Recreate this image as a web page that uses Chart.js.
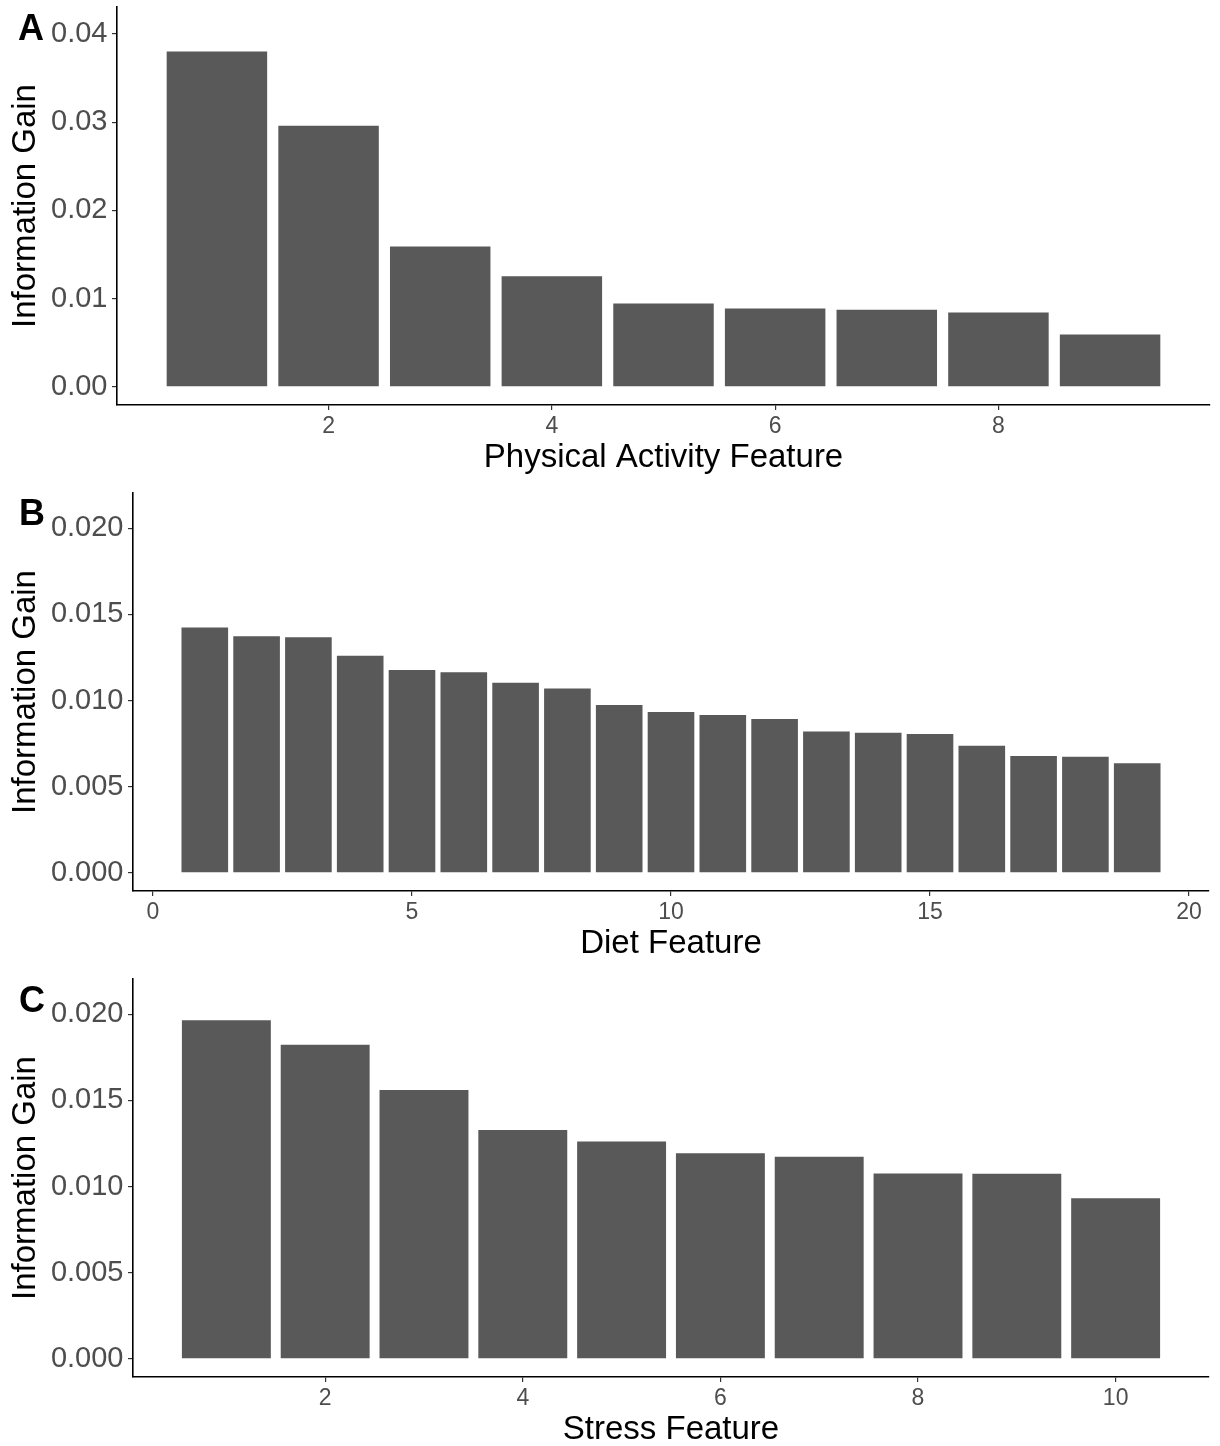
<!DOCTYPE html>
<html>
<head>
<meta charset="utf-8">
<title>Information Gain by Feature</title>
<script src="https://cdn.jsdelivr.net/npm/chart.js@4.4.1/dist/chart.umd.min.js"></script>
<style>
  html, body { margin: 0; padding: 0; background: #fff; }
  #wrap { position: relative; width: 1220px; height: 1446px; }
  #wrap canvas { position: absolute; left: 0; top: 0; width: 1220px; height: 1446px; }
</style>
</head>
<body>
<div id="wrap">
  <canvas id="chart-a" width="1220" height="1446"></canvas>
  <canvas id="chart-b" width="1220" height="1446"></canvas>
  <canvas id="chart-c" width="1220" height="1446"></canvas>
</div>
<script>
// Panel A - physical activity
const activityFeatures = [1, 2, 3, 4, 5, 6, 7, 8, 9];
const activityGain = [0.0380, 0.0296, 0.0159, 0.01254, 0.00946, 0.00889, 0.00873, 0.00844, 0.00595];
const activityXTicks = [2, 4, 6, 8];
const activityYTicks = [0, 0.01, 0.02, 0.03, 0.04];

// Panel B - diet
const dietFeatures = [1, 2, 3, 4, 5, 6, 7, 8, 9, 10, 11, 12, 13, 14, 15, 16, 17, 18, 19];
const dietGain = [0.01424, 0.01374, 0.01368, 0.0126, 0.01177, 0.01165, 0.01104, 0.01071, 0.00975, 0.00934,
                  0.00917, 0.00894, 0.00821, 0.00813, 0.00806, 0.00738, 0.00678, 0.00674, 0.00636];
const dietXTicks = [0, 5, 10, 15, 20];

// Panel C - stress
const stressFeatures = [1, 2, 3, 4, 5, 6, 7, 8, 9, 10];
const stressGain = [0.01965, 0.01824, 0.01561, 0.01329, 0.01262, 0.01194, 0.01173, 0.01076, 0.01074, 0.00933];
const stressXTicks = [2, 4, 6, 8, 10];

const gainYTicks = [0, 0.005, 0.01, 0.015, 0.02];

const FONT = '"Liberation Sans", Arial, Helvetica, sans-serif';
const PAGE_W = 1220;
const PAGE_H = 1446;
const X_AXIS_H = 69;

// draws the bold panel letter in the top-left corner
const panelLetter = {
    id: 'panelLetter',
    afterDraw(chart, args, opts) {
        const ctx = chart.ctx;
        ctx.save();
        ctx.font = 'bold 36px ' + FONT;
        ctx.fillStyle = '#000';
        ctx.textBaseline = 'alphabetic';
        ctx.fillText(opts.text, opts.x, opts.y);
        ctx.restore();
    }
};

const panels = [
    {
        id: 'chart-a', letter: 'A', letterX: 18, letterY: 40,
        xs: activityFeatures, ys: activityGain, xTicks: activityXTicks, yTicks: activityYTicks, yDigits: 2,
        xTitle: 'Physical Activity Feature',
        xMin: 0.105, xMax: 9.895, yMin: -0.00205, yMax: 0.04305,
        left: 117, right: 1210, top: 7, bottom: 405
    },
    {
        id: 'chart-b', letter: 'B', letterX: 19, letterY: 525,
        xs: dietFeatures, ys: dietGain, xTicks: dietXTicks, yTicks: gainYTicks, yDigits: 3,
        xTitle: 'Diet Feature',
        xMin: -0.386, xMax: 20.386, yMin: -0.00105, yMax: 0.02205,
        left: 133, right: 1209, top: 493, bottom: 891
    },
    {
        id: 'chart-c', letter: 'C', letterX: 19, letterY: 1012,
        xs: stressFeatures, ys: stressGain, xTicks: stressXTicks, yTicks: gainYTicks, yDigits: 3,
        xTitle: 'Stress Feature',
        xMin: 0.055, xMax: 10.945, yMin: -0.00105, yMax: 0.02205,
        left: 133, right: 1209, top: 979, bottom: 1377
    }
];

function makeChart(p) {
    const points = p.xs.map((x, i) => ({ x: x, y: p.ys[i] }));

    new Chart(document.getElementById(p.id), {
        type: 'bar',
        data: {
            datasets: [{
                data: points,
                backgroundColor: '#595959',
                borderWidth: 0,
                barPercentage: 0.9,
                categoryPercentage: 1
            }]
        },
        options: {
            responsive: false,
            animation: false,
            events: [],
            layout: {
                padding: {
                    left: 0,
                    top: p.top,
                    right: PAGE_W - p.right,
                    bottom: Math.max(0, PAGE_H - p.bottom - X_AXIS_H)
                }
            },
            plugins: {
                legend: { display: false },
                tooltip: { enabled: false },
                panelLetter: { text: p.letter, x: p.letterX, y: p.letterY }
            },
            scales: {
                x: {
                    type: 'linear',
                    min: p.xMin,
                    max: p.xMax,
                    offset: false,
                    afterBuildTicks: s => { s.ticks = p.xTicks.map(v => ({ value: v })); },
                    afterFit: s => { s.height = X_AXIS_H; s.paddingLeft = 0; s.paddingRight = 0; },
                    grid: { display: true, offset: false, drawOnChartArea: false, drawTicks: true, tickLength: 5, color: '#333', lineWidth: 1.2 },
                    border: { display: true, color: '#000', width: 1.6 },
                    ticks: {
                        color: '#4D4D4D',
                        font: { family: FONT, size: 23 },
                        padding: 3,
                        maxRotation: 0,
                        autoSkip: false,
                        callback: v => String(v)
                    },
                    title: {
                        display: true,
                        text: p.xTitle,
                        color: '#000',
                        font: { family: FONT, size: 33, lineHeight: 1.0 },
                        padding: { top: 0, bottom: 0 }
                    }
                },
                y: {
                    type: 'linear',
                    min: p.yMin,
                    max: p.yMax,
                    afterBuildTicks: s => { s.ticks = p.yTicks.map(v => ({ value: v })); },
                    afterFit: s => { s.width = p.left; s.paddingTop = 0; s.paddingBottom = 0; },
                    grid: { display: true, drawOnChartArea: false, drawTicks: true, tickLength: 5, color: '#333', lineWidth: 1.2 },
                    border: { display: true, color: '#000', width: 1.6 },
                    ticks: {
                        color: '#4D4D4D',
                        font: { family: FONT, size: 29 },
                        padding: 4.5,
                        autoSkip: false,
                        callback: v => Number(v).toFixed(p.yDigits)
                    },
                    title: {
                        display: true,
                        text: 'Information Gain',
                        color: '#000',
                        font: { family: FONT, size: 33 },
                        padding: { top: 6, bottom: 0 }
                    }
                }
            }
        },
        plugins: [panelLetter]
    });
}

panels.forEach(makeChart);
</script>
</body>
</html>
